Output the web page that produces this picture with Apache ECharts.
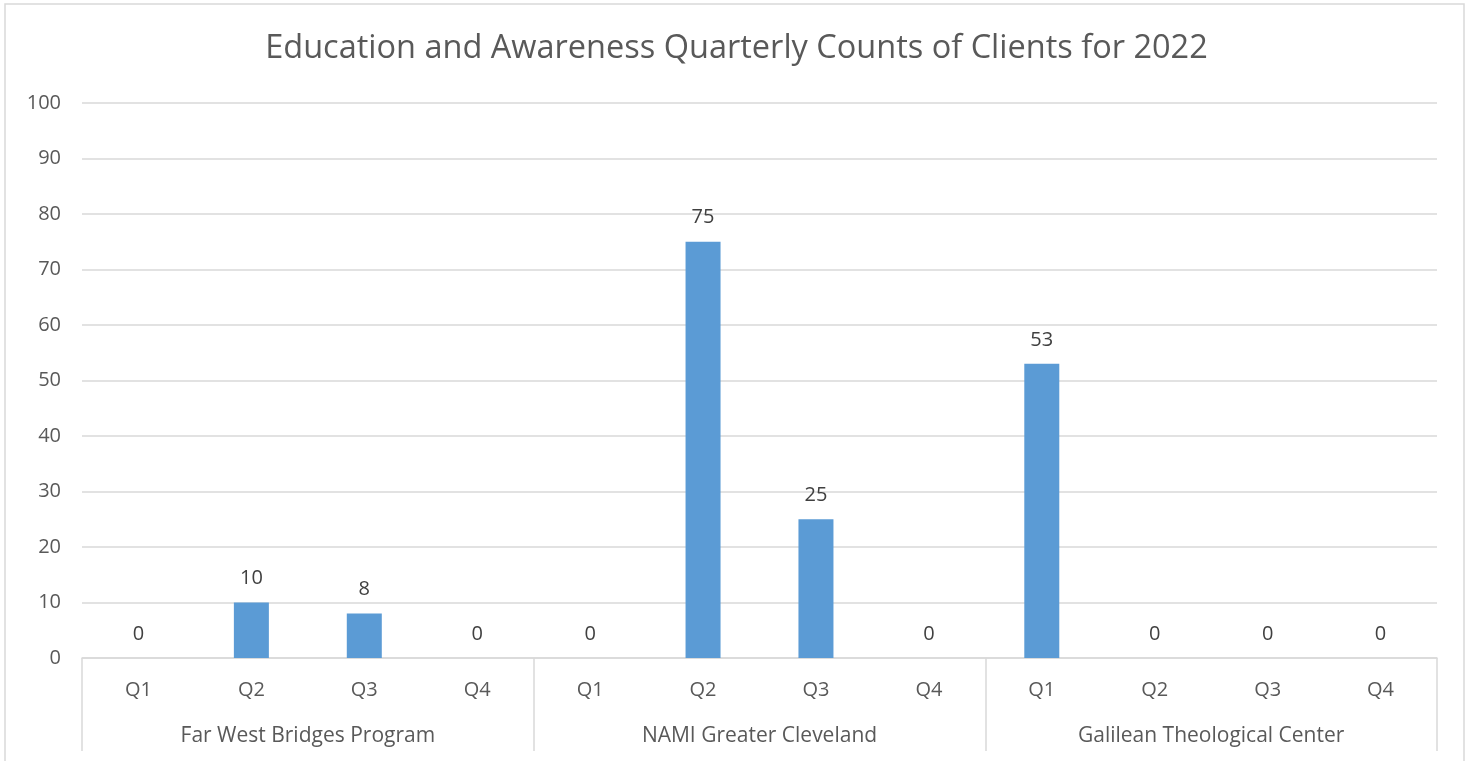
<!DOCTYPE html>
<html>
<head>
<meta charset="utf-8">
<title>Education and Awareness Quarterly Counts of Clients for 2022</title>
<script src="https://cdn.jsdelivr.net/npm/echarts@6/dist/echarts.min.js"></script>
<style>
  html, body { margin: 0; padding: 0; background: #fff; }
  #chart { width: 1473px; height: 761px; }
</style>
</head>
<body>
<div id="chart"></div>
<script>
(function(){
  var titleText = 'Education and Awareness Quarterly Counts of Clients for 2022';
  var groups = ['Far West Bridges Program', 'NAMI Greater Cleveland', 'Galilean Theological Center'];
  var quarters = ['Q1','Q2','Q3','Q4','Q1','Q2','Q3','Q4','Q1','Q2','Q3','Q4'];
  var counts = [0, 10, 8, 0, 0, 75, 25, 0, 53, 0, 0, 0];

  var font = '"Open Sans", Lato, sans-serif';
  var myChart = echarts.init(document.getElementById('chart'));
  var option = {
    animation: false,
    textStyle: { fontFamily: font },
    graphic: [{
      type: 'rect',
      shape: { x: 5, y: 4, width: 1459, height: 800 },
      style: { fill: 'none', stroke: '#d9d9d9', lineWidth: 1.5 },
      silent: true
    }],
    title: {
      text: titleText,
      left: 'center',
      top: 27,
      textStyle: { fontFamily: font, fontSize: 32.5, fontWeight: 'normal', color: '#595959' }
    },
    grid: { left: 82, right: 36, top: 103, bottom: 103 },
    xAxis: [{
      type: 'category',
      data: quarters,
      position: 'bottom',
      axisLine: { lineStyle: { color: '#d9d9d9', width: 1.5 } },
      axisTick: { show: false },
      axisLabel: { color: '#595959', fontSize: 20, margin: 22, fontFamily: font }
    }, {
      type: 'category',
      data: groups,
      position: 'bottom',
      axisLine: { show: false },
      axisTick: { show: true, length: 93, lineStyle: { color: '#d9d9d9', width: 1.5 } },
      axisLabel: { color: '#595959', fontSize: 21, margin: 68, fontFamily: font }
    }],
    yAxis: {
      type: 'value',
      min: 0,
      max: 100,
      interval: 10,
      axisLine: { show: false },
      axisTick: { show: false },
      axisLabel: { color: '#595959', fontSize: 20, margin: 21, fontFamily: font },
      splitLine: { lineStyle: { color: '#d9d9d9', width: 1.5 } }
    },
    series: [{
      type: 'bar',
      data: counts,
      xAxisIndex: 0,
      barWidth: '31%',
      itemStyle: { color: '#5b9bd5' },
      label: {
        show: true,
        position: 'top',
        distance: 14,
        color: '#404040',
        fontSize: 20,
        fontFamily: font
      }
    }]
  };
  myChart.setOption(option);
  window.addEventListener('resize', function() {
    myChart.resize();
  });
})();
</script>
</body>
</html>
